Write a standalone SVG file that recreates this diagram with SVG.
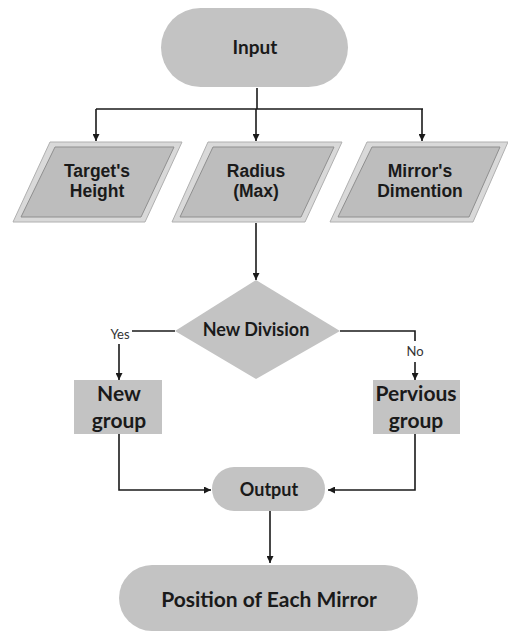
<svg xmlns="http://www.w3.org/2000/svg" width="508" height="632" viewBox="0 0 508 632">
<defs>
<marker id="arr" viewBox="0 0 10 10" refX="10" refY="5" markerWidth="7" markerHeight="7" markerUnits="userSpaceOnUse" orient="auto">
<path d="M0,0 L10,5 L0,10 z" fill="#1a1a1a"/>
</marker>
</defs>
<style>
.sh{fill:#c3c3c3;stroke:none}
.bev{fill:#d9d9d9;stroke:#b0b0b0;stroke-width:1}
.face{fill:#bdbdbd;stroke:#8f8f8f;stroke-width:1}
.ln{fill:none;stroke:#1a1a1a;stroke-width:1.6}
.ar{fill:none;stroke:#1a1a1a;stroke-width:1.6;marker-end:url(#arr)}
.ta{font-family:"Liberation Sans",Arial,sans-serif;font-weight:bold;font-size:17.5px;fill:#1a1a1a;text-anchor:middle}
.tc{font-family:Lato,"Open Sans",sans-serif;font-weight:bold;fill:#1a1a1a;text-anchor:middle}
.lb{font-family:Lato,"Open Sans",sans-serif;font-size:13px;fill:#333;text-anchor:middle}
</style>
<g id="connectors">
<path class="ln" d="M257,88 L257,109"/>
<path class="ln" d="M96,109 L423,109"/>
<path class="ar" d="M96,109 L96,141"/>
<path class="ar" d="M256,109 L256,141"/>
<path class="ar" d="M422,109 L422,141"/>
<path class="ar" d="M256,223 L256,280"/>
<path class="ln" d="M175,331 L132,331"/>
<path class="ar" d="M119,344 L119,380"/>
<path class="ln" d="M340,331 L415,331 L415,341"/>
<path class="ar" d="M415,362 L415,380"/>
<path class="ar" d="M119,434 L119,490 L211,490"/>
<path class="ar" d="M415,434 L415,490 L328,490"/>
<path class="ar" d="M270,511 L270,563"/>
<text class="lb" x="120" y="339">Yes</text>
<text class="lb" x="415" y="356">No</text>
</g>
<g id="input">
<rect class="sh" x="161" y="8" width="187" height="79" rx="39.5"/>
<text class="tc" x="255" y="54" font-size="19">Input</text>
</g>
<g id="target-height">
<polygon class="bev" points="50,142 182,142 145,222 13,222"/>
<polygon class="face" points="55,147 174,147 141,217 21,217"/>
<text class="ta" x="97" y="177">Target's</text>
<text class="ta" x="97" y="197">Height</text>
</g>
<g id="radius">
<polygon class="bev" points="208,142 342,142 305,222 172,222"/>
<polygon class="face" points="213,147 334,147 301,217 180,217"/>
<text class="ta" x="256" y="177">Radius</text>
<text class="ta" x="256" y="197">(Max)</text>
</g>
<g id="mirror-dimention">
<polygon class="bev" points="367,142 508,142 473,222 330,222"/>
<polygon class="face" points="372,147 500,147 469,217 338,217"/>
<text class="ta" x="420" y="177">Mirror's</text>
<text class="ta" x="420" y="197">Dimention</text>
</g>
<g id="new-division">
<polygon class="sh" points="256,280 340,331 256,379 175,331"/>
<text class="tc" x="256" y="336" font-size="18">New Division</text>
</g>
<g id="new-group">
<rect class="sh" x="74" y="380" width="88" height="54"/>
<text class="tc" x="119" y="401" font-size="21">New</text>
<text class="tc" x="119" y="428" font-size="21">group</text>
</g>
<g id="pervious-group">
<rect class="sh" x="373" y="380" width="87" height="54"/>
<text class="tc" x="416" y="401" font-size="21">Pervious</text>
<text class="tc" x="416" y="428" font-size="21">group</text>
</g>
<g id="output">
<rect class="sh" x="212" y="467" width="113" height="44" rx="22"/>
<text class="tc" x="269" y="496" font-size="18">Output</text>
</g>
<g id="position">
<rect class="sh" x="119" y="565" width="299" height="66" rx="33"/>
<text class="tc" x="269" y="607" font-size="21">Position of Each Mirror</text>
</g>
</svg>
